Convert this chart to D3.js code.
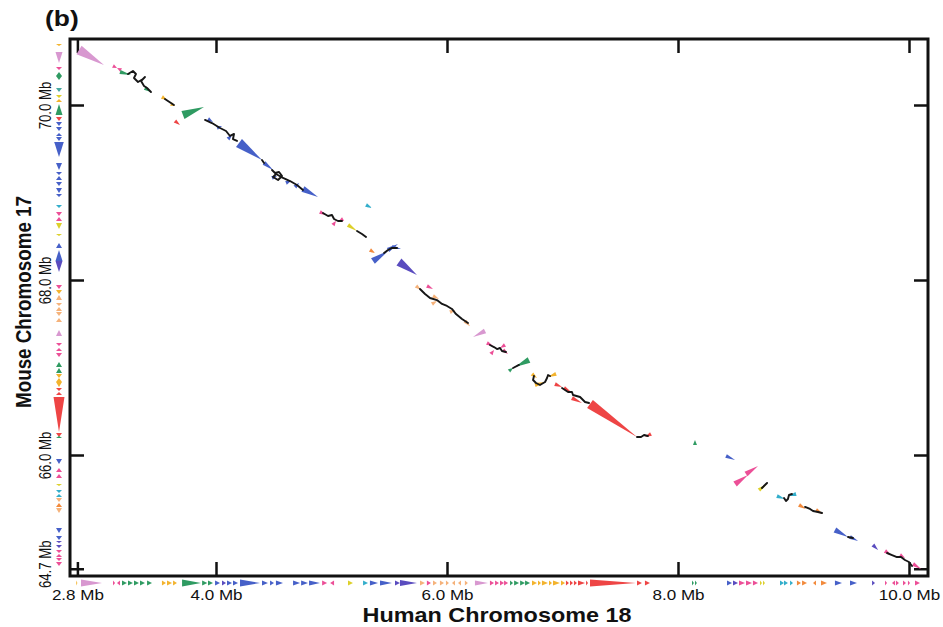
<!DOCTYPE html>
<html>
<head>
<meta charset="utf-8">
<script src="https://cdn.jsdelivr.net/npm/d3@7"></script>
<style>
  html, body { margin: 0; padding: 0; background: #fff; }
  svg { display: block; }
</style>
</head>
<body>
<svg id="chart" width="943" height="627"></svg>
<script>
// ---- Axis ticks (Mb) ----
const xTicks = [2.8, 4.0, 6.0, 8.0, 10.0];
const yTicks = [64.7, 66.0, 68.0, 70.0];

// ---- Human chromosome 18 gene track: [start Mb, end Mb, family, strand] ----
const humanGenes = [
  [2.790, 2.800, "amber", 1], [2.831, 3.013, "lilac", 1],
  [3.108, 3.126, "pink", 1], [3.143, 3.169, "pink", -1],
  [3.186, 3.229, "green", 1], [3.238, 3.281, "green", 1], [3.290, 3.333, "green", 1],
  [3.342, 3.385, "green", 1], [3.403, 3.446, "green", 1],
  [3.532, 3.567, "amber", 1], [3.576, 3.619, "amber", 1], [3.628, 3.662, "amber", 1],
  [3.706, 3.870, "green", 1], [3.880, 3.925, "green", 1], [3.931, 3.974, "green", 1],
  [3.992, 4.035, "blue", 1], [4.052, 4.087, "violet", 1], [4.095, 4.139, "blue", 1],
  [4.147, 4.191, "blue", 1], [4.208, 4.381, "blue", 1], [4.398, 4.450, "blue", 1],
  [4.468, 4.502, "blue", 1], [4.519, 4.580, "blue", 1], [4.667, 4.728, "blue", 1],
  [4.737, 4.797, "blue", 1], [4.806, 4.900, "blue", 1],
  [4.919, 4.962, "pink", 1], [4.988, 5.022, "pink", -1],
  [5.143, 5.186, "yellow", 1],
  [5.273, 5.316, "cyan", 1], [5.333, 5.403, "blue", 1], [5.420, 5.524, "blue", 1],
  [5.550, 5.593, "violet", 1], [5.593, 5.740, "violet", 1],
  [5.766, 5.809, "peach", 1], [5.826, 5.861, "pink", 1], [5.879, 5.913, "peach", 1],
  [5.939, 5.974, "peach", 1], [5.991, 6.017, "peach", 1], [6.043, 6.069, "peach", -1],
  [6.095, 6.121, "peach", -1], [6.155, 6.181, "peach", 1],
  [6.242, 6.355, "lilac", 1],
  [6.372, 6.407, "pink", 1], [6.416, 6.450, "pink", 1], [6.459, 6.494, "pink", 1], [6.494, 6.529, "pink", 1],
  [6.546, 6.572, "green", 1], [6.581, 6.624, "green", 1], [6.633, 6.676, "green", 1], [6.676, 6.719, "green", 1],
  [6.736, 6.779, "amber", 1], [6.788, 6.814, "amber", 1], [6.822, 6.874, "amber", 1],
  [6.883, 6.909, "amber", 1], [6.918, 6.978, "amber", 1], [6.987, 7.022, "amber", 1],
  [7.030, 7.056, "red", 1], [7.065, 7.091, "red", 1], [7.099, 7.125, "red", 1],
  [7.134, 7.195, "red", 1], [7.204, 7.221, "red", 1],
  [7.238, 7.636, "red", 1],
  [7.645, 7.688, "red", 1], [7.714, 7.757, "red", 1],
  [8.121, 8.138, "green", 1], [8.147, 8.164, "green", 1],
  [8.424, 8.468, "blue", 1], [8.476, 8.520, "violet", 1], [8.528, 8.580, "pink", 1],
  [8.589, 8.641, "pink", 1], [8.649, 8.693, "pink", 1],
  [8.710, 8.727, "yellow", 1], [8.736, 8.753, "yellow", 1],
  [8.883, 8.918, "cyan", 1], [8.918, 8.952, "cyan", 1], [8.970, 8.996, "cyan", 1],
  [9.030, 9.065, "orange", 1], [9.074, 9.117, "orange", 1],
  [9.169, 9.195, "orange", -1], [9.238, 9.290, "orange", 1],
  [9.359, 9.420, "blue", 1], [9.489, 9.550, "blue", 1],
  [9.680, 9.706, "violet", 1],
  [9.792, 9.810, "pink", 1], [9.853, 9.879, "pink", -1], [9.887, 9.913, "pink", 1],
  [9.948, 9.974, "pink", 1], [9.991, 10.009, "pink", 1], [10.052, 10.095, "pink", 1]
];

// ---- Mouse chromosome 17 gene track: [start Mb, end Mb, family, strand] ----
const mouseGenes = [
  [70.674, 70.697, "amber", -1], [70.480, 70.606, "lilac", -1], [70.400, 70.434, "pink", -1],
  [70.331, 70.377, "green", 1], [70.286, 70.331, "green", -1], [70.149, 70.194, "teal", -1],
  [70.080, 70.114, "yellow", -1], [70.034, 70.069, "amber", 1],
  [69.886, 70.011, "green", 1], [69.817, 69.863, "red", -1],
  [69.760, 69.806, "blue", -1], [69.703, 69.749, "blue", -1], [69.646, 69.680, "blue", 1],
  [69.589, 69.634, "blue", -1], [69.406, 69.577, "blue", -1], [69.257, 69.337, "blue", -1],
  [69.200, 69.234, "blue", -1], [69.143, 69.189, "blue", 1], [69.074, 69.120, "blue", -1],
  [68.994, 69.051, "blue", -1], [68.949, 68.983, "blue", -1],
  [68.823, 68.857, "cyan", -1],
  [68.731, 68.777, "pink", -1], [68.674, 68.720, "pink", 1],
  [68.583, 68.651, "yellow", -1], [68.503, 68.526, "yellow", -1],
  [68.366, 68.423, "blue", 1],
  [68.217, 68.343, "blue", 1], [68.091, 68.217, "violet", -1],
  [67.897, 67.943, "pink", -1],
  [67.840, 67.886, "amber", -1], [67.771, 67.829, "peach", 1],
  [67.703, 67.737, "peach", -1], [67.646, 67.691, "peach", 1],
  [67.589, 67.634, "peach", -1], [67.520, 67.566, "peach", 1],
  [67.360, 67.429, "lilac", 1],
  [67.246, 67.280, "pink", -1], [67.189, 67.223, "pink", 1], [67.120, 67.166, "pink", -1],
  [67.006, 67.063, "green", 1], [66.937, 66.994, "green", 1],
  [66.880, 66.926, "amber", -1], [66.834, 66.880, "amber", 1], [66.777, 66.834, "amber", -1],
  [66.731, 66.766, "red", -1], [66.686, 66.720, "red", 1],
  [66.263, 66.663, "red", -1], [66.206, 66.251, "red", -1],
  [66.194, 66.217, "green", 1],
  [65.897, 65.954, "blue", -1],
  [65.806, 65.851, "pink", 1], [65.737, 65.783, "pink", 1],
  [65.646, 65.669, "yellow", -1],
  [65.566, 65.600, "cyan", -1], [65.520, 65.554, "cyan", 1],
  [65.463, 65.509, "peach", -1], [65.406, 65.451, "orange", 1], [65.337, 65.394, "peach", -1],
  [65.109, 65.166, "blue", -1], [65.029, 65.074, "blue", -1],
  [64.994, 65.017, "violet", -1], [64.937, 64.971, "violet", -1],
  [64.880, 64.914, "pink", -1], [64.834, 64.869, "pink", 1],
  [64.789, 64.823, "pink", -1], [64.731, 64.777, "pink", -1]
];

// ---- Conserved gene blocks in the dot plot: [human from, mouse from, human to, mouse to, family] ----
const dotBlocks = [
  [2.814, 70.629, 3.030, 70.457, "lilac"],
  [3.108, 70.446, 3.143, 70.423, "pink"], [3.178, 70.400, 3.143, 70.423, "pink"],
  [3.169, 70.377, 3.264, 70.343, "green"], [3.385, 70.194, 3.437, 70.149, "green"],
  [3.532, 70.091, 3.576, 70.057, "amber"], [3.610, 70.011, 3.645, 69.989, "amber"],
  [3.714, 69.886, 3.896, 69.977, "green"],
  [3.645, 69.817, 3.688, 69.771, "red"],
  [3.931, 69.840, 3.974, 69.806, "blue"], [4.009, 69.737, 4.052, 69.760, "blue"],
  [4.104, 69.611, 4.139, 69.657, "blue"], [4.199, 69.566, 4.398, 69.371, "blue"],
  [4.416, 69.337, 4.494, 69.257, "blue"], [4.485, 69.166, 4.528, 69.189, "blue"],
  [4.606, 69.109, 4.649, 69.131, "blue"], [4.684, 69.063, 4.719, 69.109, "blue"],
  [4.753, 69.040, 4.883, 68.949, "blue"],
  [5.299, 68.857, 5.351, 68.823, "cyan"],
  [4.900, 68.777, 4.952, 68.743, "pink"], [5.100, 68.697, 5.056, 68.663, "pink"],
  [5.013, 68.629, 5.039, 68.674, "pink"],
  [5.143, 68.629, 5.221, 68.560, "yellow"],
  [5.333, 68.343, 5.377, 68.309, "orange"],
  [5.359, 68.217, 5.489, 68.331, "blue"], [5.489, 68.343, 5.576, 68.411, "blue"],
  [5.524, 68.377, 5.602, 68.354, "blue"],
  [5.584, 68.206, 5.740, 68.057, "violet"],
  [5.827, 67.931, 5.879, 67.897, "pink"],
  [5.732, 67.931, 5.775, 67.886, "peach"], [5.879, 67.817, 5.931, 67.783, "peach"],
  [5.870, 67.726, 5.913, 67.760, "peach"], [6.026, 67.634, 6.069, 67.657, "peach"],
  [6.156, 67.531, 6.199, 67.471, "peach"],
  [6.329, 67.417, 6.225, 67.349, "lilac"],
  [6.346, 67.280, 6.398, 67.246, "pink"], [6.381, 67.154, 6.407, 67.200, "pink"],
  [6.485, 67.200, 6.528, 67.154, "pink"], [6.502, 67.257, 6.459, 67.223, "pink"],
  [6.710, 67.086, 6.589, 67.006, "green"], [6.537, 66.960, 6.572, 66.994, "green"],
  [6.736, 66.926, 6.779, 66.880, "amber"], [6.762, 66.800, 6.857, 66.834, "amber"],
  [6.944, 66.926, 6.875, 66.891, "amber"],
  [6.935, 66.811, 6.996, 66.777, "red"], [7.013, 66.766, 7.074, 66.720, "red"],
  [7.082, 66.651, 7.169, 66.594, "red"], [7.238, 66.583, 7.645, 66.206, "red"],
  [7.766, 66.240, 7.714, 66.206, "red"],
  [8.147, 66.114, 8.147, 66.171, "green"],
  [8.416, 65.989, 8.494, 65.943, "blue"],
  [8.494, 65.669, 8.606, 65.771, "pink"], [8.589, 65.783, 8.693, 65.874, "pink"],
  [8.701, 65.600, 8.771, 65.669, "yellow"],
  [8.857, 65.531, 8.926, 65.497, "cyan"], [9.022, 65.554, 8.961, 65.531, "cyan"],
  [9.048, 65.429, 9.108, 65.383, "orange"], [9.195, 65.371, 9.255, 65.326, "orange"],
  [9.359, 65.143, 9.472, 65.063, "blue"], [9.489, 65.063, 9.559, 65.017, "blue"],
  [9.688, 64.971, 9.732, 64.914, "violet"],
  [9.792, 64.903, 9.844, 64.857, "pink"], [9.922, 64.857, 9.965, 64.823, "pink"],
  [10.035, 64.754, 10.104, 64.697, "pink"]
];

// ---- Sequence alignment paths: lists of [human Mb, mouse Mb] ----
const alignPaths = [
  [[3.238, 70.354], [3.281, 70.389], [3.307, 70.354], [3.290, 70.309], [3.325, 70.263], [3.368, 70.297],
   [3.385, 70.320], [3.351, 70.274], [3.377, 70.217], [3.403, 70.194], [3.437, 70.149]],
  [[3.558, 70.069], [3.584, 70.046], [3.610, 70.023], [3.636, 70.000]],
  [[3.905, 69.829], [3.965, 69.794], [4.035, 69.737], [4.087, 69.703], [4.121, 69.646], [4.156, 69.669],
   [4.147, 69.611], [4.182, 69.589]],
  [[4.398, 69.371], [4.416, 69.337]],
  [[4.485, 69.257], [4.511, 69.223], [4.546, 69.234], [4.572, 69.189], [4.537, 69.143], [4.494, 69.177],
   [4.520, 69.211], [4.580, 69.166], [4.641, 69.131], [4.701, 69.086], [4.753, 69.029]],
  [[4.926, 68.766], [4.970, 68.731], [5.004, 68.743], [5.022, 68.697], [5.056, 68.674], [5.091, 68.674]],
  [[5.221, 68.560], [5.264, 68.526], [5.299, 68.491]],
  [[5.455, 68.309], [5.489, 68.343], [5.524, 68.366], [5.567, 68.366]],
  [[5.766, 67.897], [5.810, 67.840], [5.853, 67.794], [5.913, 67.771], [5.957, 67.726], [6.000, 67.703],
   [6.043, 67.669], [6.078, 67.611], [6.130, 67.554], [6.182, 67.509]],
  [[6.372, 67.257], [6.407, 67.234], [6.433, 67.211], [6.459, 67.223], [6.476, 67.189], [6.511, 67.177]],
  [[6.572, 66.994], [6.623, 67.029]],
  [[6.753, 66.903], [6.745, 66.857], [6.771, 66.823], [6.805, 66.800], [6.849, 66.834], [6.866, 66.880],
   [6.875, 66.914], [6.892, 66.903]],
  [[6.996, 66.766], [7.022, 66.743], [7.048, 66.720], [7.082, 66.720], [7.091, 66.686], [7.152, 66.663],
   [7.178, 66.629], [7.195, 66.606], [7.230, 66.594]],
  [[7.645, 66.206], [7.680, 66.206], [7.706, 66.229], [7.740, 66.217]],
  [[8.727, 65.623], [8.753, 65.657], [8.771, 65.680]],
  [[8.918, 65.509], [8.935, 65.474], [8.952, 65.497], [8.961, 65.543], [8.987, 65.554]],
  [[9.100, 65.406], [9.143, 65.383], [9.169, 65.360], [9.212, 65.349], [9.247, 65.337]],
  [[9.472, 65.063], [9.515, 65.051]],
  [[9.810, 64.880], [9.853, 64.857], [9.896, 64.834], [9.931, 64.834], [9.965, 64.800], [10.000, 64.777],
   [10.026, 64.731]]
];

// ---- Styling ----
const familyColor = {
  lilac: "#d898d0", pink: "#ec4f97", green: "#2f9b62", amber: "#f3b32d",
  blue: "#4660c8", violet: "#5a4cbf", red: "#ee4545", cyan: "#33aecb",
  yellow: "#ddd02a", orange: "#f28a3c", peach: "#f5b27a", teal: "#46a8a0"
};

const svg = d3.select("#chart");
const frame = { left: 70, right: 928, top: 39, bottom: 576 };
const tickLen = 14;
const stretch = 1.2;           // glyphs are drawn horizontally widened
const sans = "'Liberation Sans', Arial, Helvetica, sans-serif";

const x = d3.scaleLinear().domain([2.8, 10.0]).range([77.4, 909]);
const y = d3.scaleLinear().domain([64.7, 70.0]).range([568.75, 105]);

const clamp = (v, lo, hi) => Math.max(lo, Math.min(hi, v));

// Triangle with base centred on (ax, ay) and apex at (bx, by)
function wedge(ax, ay, bx, by, half) {
  const dx = bx - ax, dy = by - ay;
  const L = Math.hypot(dx, dy) || 1;
  const nx = -dy / L, ny = dx / L;
  return `M${ax + nx * half},${ay + ny * half}L${bx},${by}L${ax - nx * half},${ay - ny * half}Z`;
}

// ---- Frame ----
svg.append("rect")
  .attr("x", frame.left).attr("y", frame.top)
  .attr("width", frame.right - frame.left).attr("height", frame.bottom - frame.top)
  .attr("fill", "none").attr("stroke", "#111").attr("stroke-width", 3);

// ---- Axes (inward ticks on all four sides) ----
function styleAxis(g) {
  g.select(".domain").remove();
  g.selectAll(".tick line").attr("stroke", "#111").attr("stroke-width", 2.5);
  g.attr("font-family", sans).attr("fill", "#111");
}

svg.append("g")
  .attr("transform", `translate(0,${frame.bottom})`)
  .call(d3.axisBottom(x).tickValues(xTicks).tickSize(-tickLen).tickPadding(14)
        .tickFormat(d => d.toFixed(1) + " Mb"))
  .call(styleAxis)
  .call(g => g.selectAll(".tick text")
    .attr("font-size", 14.2).attr("fill", "#111")
    .attr("transform", `scale(${stretch},1)`));

svg.append("g")
  .attr("transform", `translate(0,${frame.top})`)
  .call(d3.axisTop(x).tickValues(xTicks).tickSize(-tickLen).tickFormat(""))
  .call(styleAxis);

svg.append("g")
  .attr("transform", `translate(${frame.right},0)`)
  .call(d3.axisRight(y).tickValues(yTicks).tickSize(-tickLen).tickFormat(""))
  .call(styleAxis);

svg.append("g")
  .attr("transform", `translate(${frame.left},0)`)
  .call(d3.axisLeft(y).tickValues(yTicks).tickSize(-tickLen)
        .tickFormat(d => d.toFixed(1) + " Mb"))
  .call(styleAxis)
  .call(g => g.selectAll(".tick text")
    .attr("x", 0).attr("dy", 0).attr("text-anchor", "middle")
    .attr("font-size", 13.2).attr("fill", "#111")
    .attr("transform", d => `translate(-19,${d === 64.7 ? -5 : 0}) scale(${stretch},1) rotate(-90)`));

// ---- Gene tracks ----
const humanTrackY = 583;
svg.append("g").selectAll("path")
  .data(humanGenes)
  .join("path")
  .attr("d", d => {
    const x0 = x(d[0]), x1 = x(d[1]);
    const half = clamp((x1 - x0) * 0.18, 2.6, 3.4);
    return d[3] > 0 ? wedge(x0, humanTrackY, x1, humanTrackY, half)
                    : wedge(x1, humanTrackY, x0, humanTrackY, half);
  })
  .attr("fill", d => familyColor[d[2]]);

const mouseTrackX = 59;
svg.append("g").selectAll("path")
  .data(mouseGenes)
  .join("path")
  .attr("d", d => {
    const yLow = y(d[0]), yHigh = y(d[1]);
    const half = clamp((yLow - yHigh) * 0.32, 3.0, 5.5);
    return d[3] < 0 ? wedge(mouseTrackX, yHigh, mouseTrackX, yLow, half)
                    : wedge(mouseTrackX, yLow, mouseTrackX, yHigh, half);
  })
  .attr("fill", d => familyColor[d[2]]);

// ---- Dot plot blocks ----
svg.append("g").selectAll("path")
  .data(dotBlocks)
  .join("path")
  .attr("d", d => {
    const ax = x(d[0]), ay = y(d[1]), bx = x(d[2]), by = y(d[3]);
    const half = clamp(Math.hypot(bx - ax, by - ay) * 0.19, 2.0, 5.0);
    return wedge(ax, ay, bx, by, half);
  })
  .attr("fill", d => familyColor[d[4]]);

// ---- Alignment paths ----
const line = d3.line().x(d => x(d[0])).y(d => y(d[1]));
svg.append("g").selectAll("path")
  .data(alignPaths)
  .join("path")
  .attr("d", line)
  .attr("fill", "none")
  .attr("stroke", "#161616")
  .attr("stroke-width", 1.9)
  .attr("stroke-linejoin", "round")
  .attr("stroke-linecap", "round");

// ---- Titles ----
svg.append("text")
  .attr("transform", `translate(45,26) scale(${stretch},1)`)
  .attr("font-family", sans).attr("font-weight", "bold").attr("font-size", 22)
  .attr("fill", "#111")
  .text("(b)");

svg.append("text")
  .attr("transform", `translate(497,622) scale(${stretch},1)`)
  .attr("text-anchor", "middle")
  .attr("font-family", sans).attr("font-weight", "bold").attr("font-size", 19.5)
  .attr("fill", "#111")
  .text("Human Chromosome 18");

svg.append("text")
  .attr("transform", `translate(31,302) scale(${stretch},1) rotate(-90)`)
  .attr("text-anchor", "middle")
  .attr("font-family", sans).attr("font-weight", "bold").attr("font-size", 18.8)
  .attr("fill", "#111")
  .text("Mouse Chromosome 17");
</script>
</body>
</html>
